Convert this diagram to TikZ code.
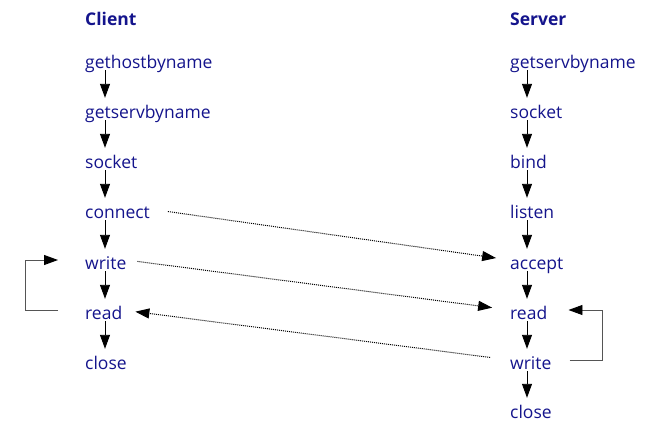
\documentclass[tikz,border=0pt]{standalone}
\usepackage{fontspec}
\setmainfont{Open Sans}
\usetikzlibrary{arrows.meta, calc}
\definecolor{cTexto}{HTML}{14148C}
\definecolor{cLazo}{HTML}{555555}
\definecolor{cMsg}{HTML}{000000}
\tikzset{
    x=1pt, y=-1pt,
    fn/.style={anchor=base west, inner sep=0pt, text height=20pt, text depth=2pt,
               text=cTexto, font=\fontsize{17.5}{21}\selectfont},
    hdr/.style={fn, font=\fontsize{17.5}{21}\selectfont\bfseries},
    flow/.style={-{Triangle[length=14pt, width=10pt]}, line width=0.9pt, black},
    msg/.style={-{Triangle[length=14pt, width=10pt]}, line width=1pt, cMsg,
                densely dotted},
    lazo/.style={-{Triangle[length=14pt, width=10pt, black]}, line width=0.9pt,
                 cLazo},
}

\begin{document}
\begin{tikzpicture}
    \useasboundingbox (0,0) rectangle (651,421);
    \coordinate (cx) at (105,0);
    \coordinate (sx) at (527,0);

    \node[hdr] (client) at (85,25) {Client};
    \node[fn] (chost) at (85,68) {gethostbyname};
    \node[fn] (cserv) at (85,118) {getservbyname};
    \node[fn] (csock) at (85,168) {socket};
    \node[fn] (cconn) at (85,218) {connect};
    \node[fn] (cwrite) at (85,269) {write};
    \node[fn] (cread) at (85,319) {read};
    \node[fn] (cclose) at (85,369) {close};

    \node[hdr] (server) at (510,25) {Server};
    \node[fn] (sserv) at (510,68) {getservbyname};
    \node[fn] (ssock) at (510,118) {socket};
    \node[fn] (sbind) at (510,168) {bind};
    \node[fn] (slisten) at (510,218) {listen};
    \node[fn] (saccept) at (510,269) {accept};
    \node[fn] (sread) at (510,319) {read};
    \node[fn] (swrite) at (510,369) {write};
    \node[fn] (sclose) at (510,418) {close};

    \foreach \a/\b in {chost/cserv, cserv/csock, csock/cconn, cconn/cwrite,
                       cwrite/cread, cread/cclose}
        \draw[flow] (\a.south -| cx) -- (\b.north -| cx);
    \foreach \a/\b in {sserv/ssock, ssock/sbind, sbind/slisten, slisten/saccept,
                       saccept/sread, sread/swrite, swrite/sclose}
        \draw[flow] (\a.south -| sx) -- (\b.north -| sx);

    \draw[msg, shorten <=18pt, shorten >=14pt] (cconn.east) -- (saccept.west);
    \draw[msg, shorten <=11pt, shorten >=18pt] (cwrite.east) -- (sread.west);
    \draw[msg, shorten <=20pt, shorten >=13pt] (swrite.west) -- (cread.east);

    \draw[lazo] ([xshift=-27pt]cread.west) -- ++(-33,0)
        |- ([xshift=-27pt]cwrite.west);
    \draw[lazo] ([xshift=18pt]swrite.east) -- ++(33,0)
        |- ([xshift=21pt]sread.east);
\end{tikzpicture}
\end{document}
